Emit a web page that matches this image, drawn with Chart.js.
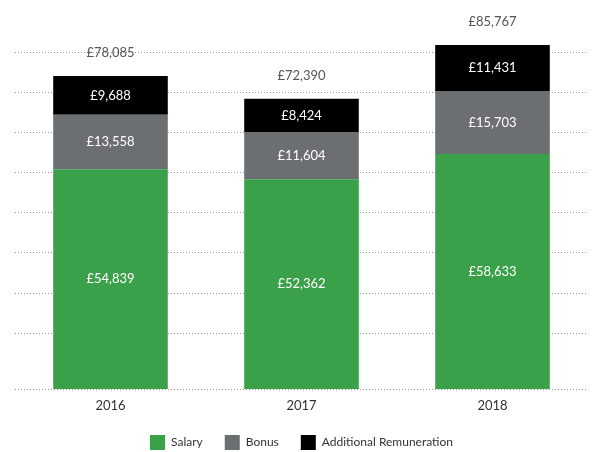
<!DOCTYPE html>
<html>
<head>
<meta charset="utf-8">
<script src="https://cdn.jsdelivr.net/npm/chart.js@4/dist/chart.umd.min.js"></script>
<style>
  html, body { margin: 0; padding: 0; background: #fff; }
  #wrap { width: 594px; height: 452px; position: relative; }
</style>
</head>
<body>
<div id="wrap"><canvas id="remChart"></canvas></div>
<script>
// Years and remuneration components (GBP)
const years = ["2016", "2017", "2018"];
const salary = [54839, 52362, 58633];
const bonus = [13558, 11604, 15703];
const additional = [9688, 8424, 11431];
const totals = [78085, 72390, 85767];
const gridValues = [0, 14000, 24000, 34000, 44000, 54000, 64000, 74000, 84000];

const fmt = (v) => "£" + v.toLocaleString("en-GB");
const fontFamily = "Lato, 'Open Sans', sans-serif";

// Draw the value inside each segment and the total above each bar
const valueLabels = {
  id: "valueLabels",
  afterDatasetsDraw(chart) {
    const ctx = chart.ctx;
    ctx.save();
    ctx.textAlign = "center";
    ctx.textBaseline = "middle";
    ctx.font = "13px " + fontFamily;
    chart.data.datasets.forEach((ds, i) => {
      const meta = chart.getDatasetMeta(i);
      meta.data.forEach((bar, j) => {
        const p = bar.getProps(["x", "y", "base"], true);
        ctx.fillStyle = "#ffffff";
        ctx.fillText(fmt(ds.data[j]), p.x, (p.y + p.base) / 2);
        if (i === chart.data.datasets.length - 1) {
          ctx.fillStyle = "#555555";
          ctx.fillText(fmt(totals[j]), p.x, p.y - 23);
        }
      });
    });
    ctx.restore();
  },
};

const config = {
  type: "bar",
  data: {
    labels: years,
    datasets: [
      { label: "Salary", data: salary, backgroundColor: "#3aa14a" },
      { label: "Bonus", data: bonus, backgroundColor: "#6b6f71" },
      { label: "Additional Remuneration", data: additional, backgroundColor: "#000000" },
    ],
  },
  options: {
    responsive: true,
    maintainAspectRatio: false,
    animation: false,
    datasets: { bar: { barPercentage: 0.6, categoryPercentage: 1 } },
    layout: { padding: { left: 15, right: 6, top: 8, bottom: -8 } },
    scales: {
      x: {
        stacked: true,
        grid: { display: false },
        border: { display: false },
        ticks: { color: "#333", font: { family: fontFamily, size: 13 }, padding: 1 },
        afterFit: (axis) => { axis.height -= 2; },
      },
      y: {
        stacked: true,
        min: 0,
        max: 95000,
        afterBuildTicks: (axis) => {
          axis.ticks = gridValues.map((v) => ({ value: v }));
        },
        ticks: { display: false },
        border: { display: false, dash: [1, 2] },
        grid: {
          color: "#999999",
          lineWidth: 1,
          drawTicks: false,
        },
      },
    },
    plugins: {
      legend: {
        position: "bottom",
        labels: {
          boxWidth: 15,
          boxHeight: 15,
          padding: 22,
          color: "#333",
          font: { family: fontFamily, size: 12 },
        },
      },
      tooltip: { enabled: false },
    },
  },
  plugins: [valueLabels],
};

const remChart = new Chart(document.getElementById("remChart"), config);
</script>
</body>
</html>
